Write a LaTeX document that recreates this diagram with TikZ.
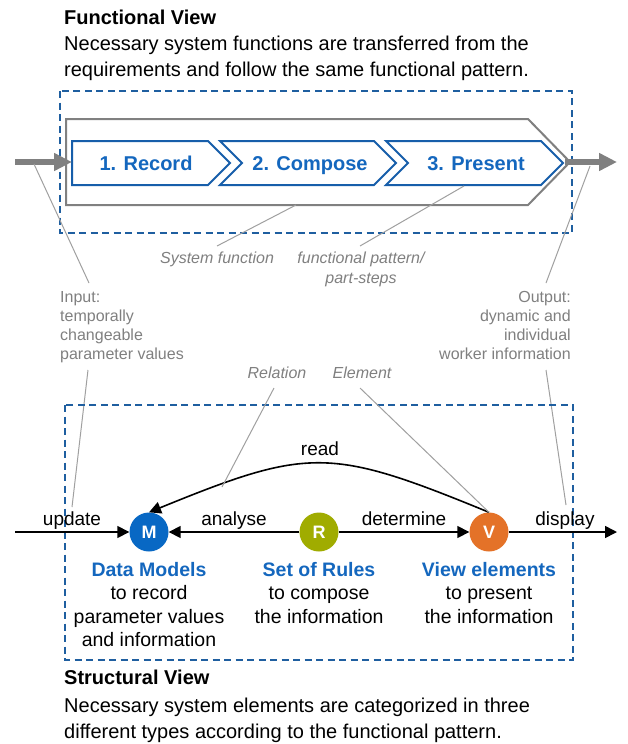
\documentclass[tikz,border=0pt]{standalone}
\usepackage{fontspec}
\setmainfont{Liberation Sans}
\usetikzlibrary{arrows.meta}
\definecolor{dashblue}{RGB}{31,95,160}
\definecolor{chevblue}{RGB}{23,94,170}
\definecolor{txtblue}{RGB}{20,103,190}
\definecolor{mblue}{RGB}{8,104,196}
\definecolor{rgreen}{RGB}{160,172,0}
\definecolor{vorange}{RGB}{228,114,40}
\definecolor{arrgray}{RGB}{128,128,128}
\definecolor{leadgray}{RGB}{160,160,160}
\definecolor{tgray}{RGB}{128,128,128}
\newcommand\mlines[2]{\begin{tabular}[t]{@{}#1@{}}#2\end{tabular}}
\begin{document}
\begin{tikzpicture}[x=1pt,y=-1pt,
  every node/.style={inner sep=0pt},
  bodytxt/.style={font=\fontsize{20}{26}\selectfont},
  titletxt/.style={font=\bfseries\fontsize{20}{26}\selectfont},
  viewbox/.style={draw=dashblue,line width=2pt,dash pattern=on 7pt off 4.5pt},
  outershape/.style={draw=arrgray,line width=2pt,line join=miter},
  chevron/.style={draw=chevblue,line width=2pt,line join=miter,fill=white},
  chevlabel/.style={text=txtblue,font=\bfseries\fontsize{20}{20}\selectfont},
  grayarrow/.style={draw=arrgray,line width=5.5pt,-{Triangle[length=18pt,width=17pt]}},
  leader/.style={draw=leadgray,line width=1pt},
  gtxt/.style={text=tgray,font=\fontsize{16}{19}\selectfont},
  gitxt/.style={text=tgray,font=\itshape\fontsize{16}{20}\selectfont},
  blk/.style={draw=black,line width=1.6pt,-{Triangle[length=12pt,width=12pt]}},
  flowlabel/.style={font=\fontsize{19}{22}\selectfont},
  dot/.style={circle,minimum size=39pt,text=white,font=\bfseries\fontsize{18}{18}\selectfont},
  desc/.style={font=\fontsize{19.5}{23.5}\selectfont}]
\useasboundingbox (0,0) rectangle (628,744);
\fill[white] (0,0) rectangle (628,744);

% ---------- Functional view ----------
\node[titletxt,anchor=base west] (ftitle) at (64,24) {Functional View};
\node[bodytxt,anchor=base west] (fdesc) at (64,50) {\mlines{l}{Necessary system functions are transferred from the\\requirements and follow the same functional pattern.}};

\draw[viewbox] (60,91) rectangle (572,233);

\draw[outershape] (66,119) -- (528,119) -- (570,162) -- (528,205) -- (66,205) -- cycle;
\coordinate (otip) at (565,162);

\draw[chevron] (72,141) -- (208,141) -- (230,163) -- (208,185) -- (72,185) -- cycle;
\draw[chevron] (220,141) -- (374,141) -- (396,163) -- (374,185) -- (220,185) -- (242,163) -- cycle;
\draw[chevron] (386,141) -- (541,141) -- (563,163) -- (541,185) -- (386,185) -- (408,163) -- cycle;
\node[chevlabel,anchor=base] (c1) at (146,170) {1. Record};
\node[chevlabel,anchor=base] (c2) at (310,170) {2. Compose};
\node[chevlabel,anchor=base] (c3) at (476,170) {3. Present};

\coordinate (gin) at (15,162);
\coordinate (gin2) at (72,162);
\coordinate (gout) at (617,162);
\draw[grayarrow] (gin) -- (gin2);
\draw[grayarrow] (otip) -- (gout);

% labels of the functional view
\node[gitxt,anchor=base] (sysf) at (217,263) {System function};
\node[gitxt,anchor=base] (fpat) at (361,263) {\mlines{c}{functional pattern/\\part-steps}};
\coordinate (sysA) at (296,205);
\coordinate (sysB) at (217,246);
\coordinate (patA) at (464,186);
\coordinate (patB) at (360,246);
\draw[leader] (sysA) -- (sysB);
\draw[leader] (patA) -- (patB);

\node[gtxt,anchor=base west] (input) at (60,302) {\mlines{l}{Input:\\temporally\\changeable\\parameter values}};
\node[gtxt,anchor=base east] (output) at (571,302) {\mlines{r}{Output:\\dynamic and\\individual\\worker information}};

\coordinate (inA) at (34,164);
\coordinate (inB) at (89,283);
\coordinate (inC) at (88,370);
\coordinate (inD) at (72,507);
\coordinate (outA) at (590,166);
\coordinate (outB) at (546,283);
\coordinate (outC) at (546,370);
\coordinate (outD) at (566,505);
\draw[leader] (inA) -- (inB);
\draw[leader] (inC) -- (inD);
\draw[leader] (outA) -- (outB);
\draw[leader] (outC) -- (outD);

% ---------- Structural view ----------
\draw[viewbox] (65,405) rectangle (573,660);

\node[dot,fill=mblue] (M) at (149,532) {M};
\node[dot,fill=rgreen] (R) at (319,532) {R};
\node[dot,fill=vorange] (V) at (489,532) {V};

\coordinate (fin) at (15,532);
\coordinate (fout) at (617,532);
\draw[blk] (fin) -- (M);
\draw[blk] (R) -- (M);
\draw[blk] (R) -- (V);
\draw[blk] (V) -- (fout);
\draw[blk] (V.north) .. controls (330,447) and (309,447) .. (M.north);

\node[flowlabel,anchor=base] (lupd) at (72,525) {update};
\node[flowlabel,anchor=base] (lana) at (234,525) {analyse};
\node[flowlabel,anchor=base] (ldet) at (404,525) {determine};
\node[flowlabel,anchor=base] (ldis) at (565,525) {display};
\node[flowlabel,anchor=base] (lread) at (320,455) {read};

\node[gitxt,anchor=base] (lrel) at (277,378) {Relation};
\node[gitxt,anchor=base] (lel) at (362,378) {Element};
\coordinate (relA) at (274,388);
\coordinate (relB) at (222,487);
\coordinate (elA) at (360,388);
\draw[leader] (relA) -- (relB);
\draw[leader] (elA) -- (V.north);

\node[desc,anchor=base] (dm) at (149,576) {\mlines{c}{{\bfseries\color{txtblue}Data Models}\\to record\\parameter values\\and information}};
\node[desc,anchor=base] (sr) at (319,576) {\mlines{c}{{\bfseries\color{txtblue}Set of Rules}\\to compose\\the information}};
\node[desc,anchor=base] (ve) at (489,576) {\mlines{c}{{\bfseries\color{txtblue}View elements}\\to present\\the information}};

\node[titletxt,anchor=base west] (stitle) at (64,684) {Structural View};
\node[bodytxt,anchor=base west] (sdesc) at (64,712) {\mlines{l}{Necessary system elements are categorized in three\\different types according to the functional pattern.}};
\end{tikzpicture}
\end{document}
